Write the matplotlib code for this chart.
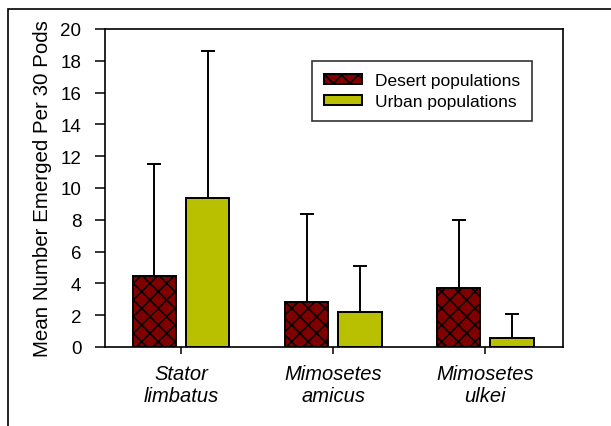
import matplotlib
matplotlib.use("Agg")
import matplotlib.pyplot as plt
import numpy as np
from matplotlib.patches import Rectangle

plt.rcParams['font.family'] = ['Liberation Sans', 'DejaVu Sans']
plt.rcParams['hatch.linewidth'] = 1.1
plt.rcParams['hatch.color'] = 'black'

# data
species = ["Stator\nlimbatus", "Mimosetes\namicus", "Mimosetes\nulkei"]
desert_mean = [4.45, 2.85, 3.7]
desert_err = [7.05, 5.5, 4.3]
urban_mean = [9.35, 2.2, 0.55]
urban_err = [9.25, 2.9, 1.5]
yticks = [0, 2, 4, 6, 8, 10, 12, 14, 16, 18, 20]

desert_color = "#800000"
urban_color = "#b9c000"

fig = plt.figure(figsize=(6.11, 4.27), dpi=100)
ax = fig.add_axes([105/611, 1 - 348/427, 458/611, 318/427])

x = np.arange(len(species))
w = 0.285
off = 0.175
err_kw = dict(ecolor="black", elinewidth=1.4, capsize=5, capthick=1.4)

ax.bar(x - off, desert_mean, w, color=desert_color, edgecolor="black",
       linewidth=1.4, hatch="xx", label="Desert populations",
       yerr=[np.zeros(3), desert_err], error_kw=err_kw, zorder=2)
ax.bar(x + off, urban_mean, w, color=urban_color, edgecolor="black",
       linewidth=1.4, label="Urban populations",
       yerr=[np.zeros(3), urban_err], error_kw=err_kw, zorder=2)

ax.set_xlim(-0.5, 2.51)
ax.set_ylim(0, 20)
ax.set_yticks(yticks)
ax.set_xticks(x)
ax.set_xticklabels(species, fontstyle="italic", fontsize=14.5, linespacing=1.2)
ax.tick_params(axis="y", labelsize=13.5, length=7, width=1.1, pad=10)
ax.tick_params(axis="x", length=5, width=1.1, pad=7)
for s in ax.spines.values():
    s.set_linewidth(1.2)

ax.set_ylabel("Mean Number Emerged Per 30 Pods", fontsize=14.8, labelpad=6)

leg = ax.legend(loc="upper left", bbox_to_anchor=(0.452, 0.899),
                borderaxespad=0, fancybox=False, fontsize=12.5,
                handlelength=2.2, handleheight=0.45, labelspacing=0.35,
                handletextpad=0.7, borderpad=0.7, frameon=True)
leg.get_frame().set_edgecolor("black")
leg.get_frame().set_linewidth(1.2)

# outer frame of the embedded figure
fig.add_artist(Rectangle((8/611, -0.2), 1.5, 1.2 - 10/427,
                         transform=fig.transFigure, fill=False,
                         edgecolor="black", linewidth=1.2))

fig.savefig("out.png", dpi=100)
